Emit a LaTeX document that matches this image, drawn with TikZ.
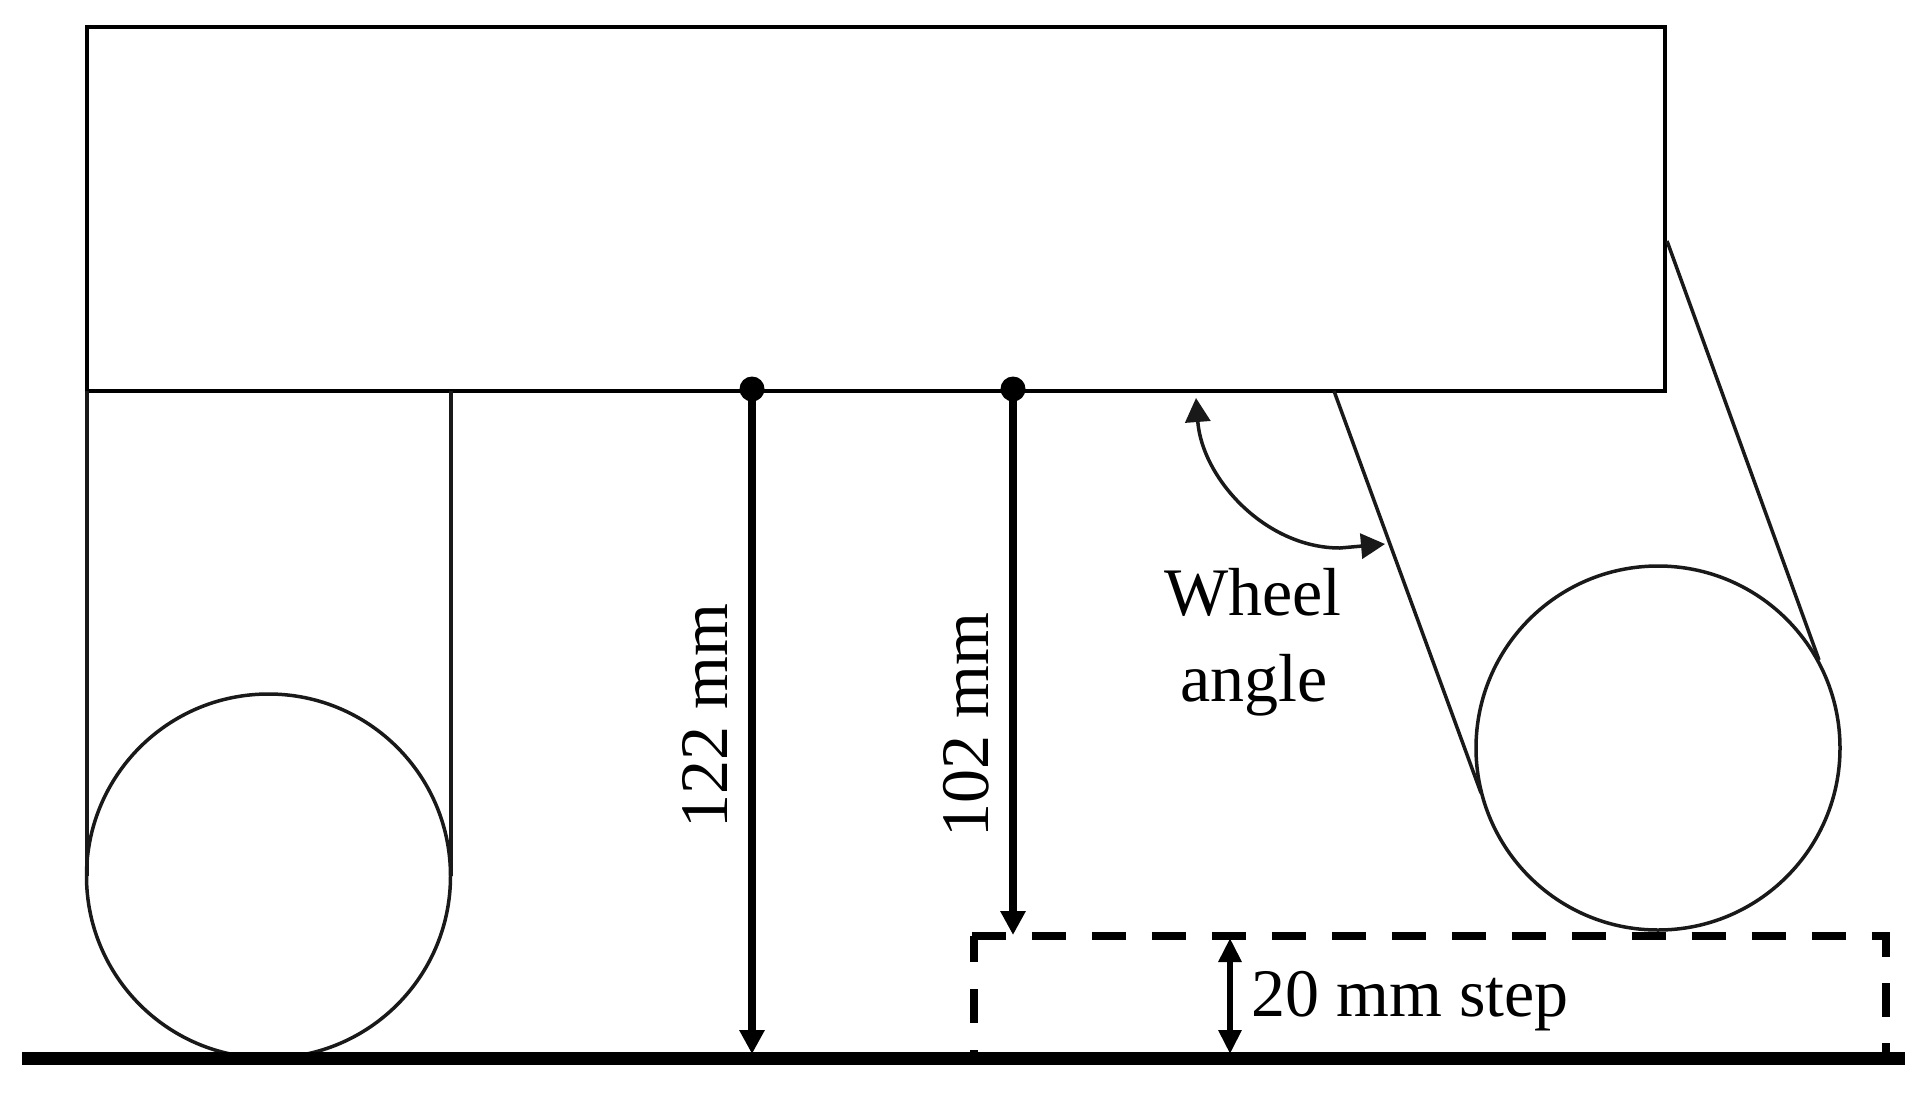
\documentclass[tikz,border=0pt]{standalone}
\usepackage{fontspec}
\setmainfont{Liberation Serif}
\usetikzlibrary{arrows.meta}
\tikzset{
  thinline/.style={draw=black!90,line width=3.5pt},
  bodyline/.style={draw=black,line width=4pt},
  wheel/.style={circle,thinline,inner sep=0pt,minimum size=364pt},
  dim/.style={draw=black,line width=8pt,-{Triangle[length=24pt,width=24pt]}},
  smalldim/.style={draw=black,line width=6pt,{Triangle[length=24pt,width=22pt]}-{Triangle[length=24pt,width=22pt]}},
  arcline/.style={draw=black!90,line width=3.5pt,{Triangle[length=24pt,width=25pt]}-{Triangle[length=24pt,width=25pt]}},
  stepline/.style={draw=black,line width=7.5pt},
  dot/.style={circle,fill=black,inner sep=0pt,minimum size=25pt},
  lab/.style={font=\fontsize{68}{68}\selectfont,inner sep=0pt,text=black}
}
\begin{document}
\begin{tikzpicture}[x=1pt,y=-1pt]
\useasboundingbox[fill=white] (0,0) rectangle (1929,1100);
% body
\coordinate (bTL) at (87,27);
\coordinate (bBR) at (1665,391);
\draw[bodyline] (bTL) rectangle (bBR);
% left wheel and fork
\node[wheel] (wl) at (268.5,876) {};
\coordinate (flt) at (87,391);
\coordinate (frt) at (451,391);
\draw[thinline] (flt) -- (flt |- wl.center);
\draw[thinline] (frt) -- (frt |- wl.center);
% right wheel and arm
\node[wheel] (wr) at (1658,748) {};
\coordinate (a1) at (1334,391);
\coordinate (a2) at (1481,793);
\coordinate (a3) at (1667,241);
\coordinate (a4) at (1819,660);
\draw[thinline] (a1) -- (a2);
\draw[thinline] (a3) -- (a4);
% ground
\coordinate (g1) at (22,1058);
\coordinate (g2) at (1905,1058);
% dots and dimensions
\node[dot] (d1) at (752,389) {};
\node[dot] (d2) at (1013,389) {};
\coordinate (g122) at (752,1054);
\coordinate (s102) at (1013,935);
\draw[dim] (d1.center) -- (g122);
\draw[dim] (d2.center) -- (s102);
% step box
\coordinate (sTL) at (974,936);
\coordinate (sTR) at (1886,936);
\coordinate (sBL) at (974,1054);
\coordinate (sBR) at (1886,1054);
\draw[stepline,dash pattern=on 34pt off 26pt,dash phase=-1pt] (970.5,936) -- (1889,936);
\draw[stepline,dash pattern=on 34pt off 27pt,dash phase=8pt] (sTL) -- (sBL);
\draw[stepline,dash pattern=on 34pt off 26pt,dash phase=9pt] (1886,932) -- (sBR);
\coordinate (s20t) at (1230,938);
\coordinate (s20b) at (1230,1054);
\draw[smalldim] (s20t) -- (s20b);
% ground on top
\draw[draw=black,line width=13pt] (g1) -- (g2);
% angle
\coordinate (at) at (1196,398);
\coordinate (ab) at (1385,544);
\draw[arcline] (at) .. controls (1202,478) and (1265,548) .. (1340,548) -- (ab);
% labels
\node[lab,anchor=base] (w1) at (1253,615) {Wheel};
\node[lab,anchor=base] (w2) at (1254,701) {angle};
\node[lab,anchor=base west] (t20) at (1251,1016) {20 mm step};
\node[lab,anchor=base,rotate=90] (t122) at (727,716) {122 mm};
\node[lab,anchor=base,rotate=90] (t102) at (988,725) {102 mm};
\end{tikzpicture}
\end{document}
